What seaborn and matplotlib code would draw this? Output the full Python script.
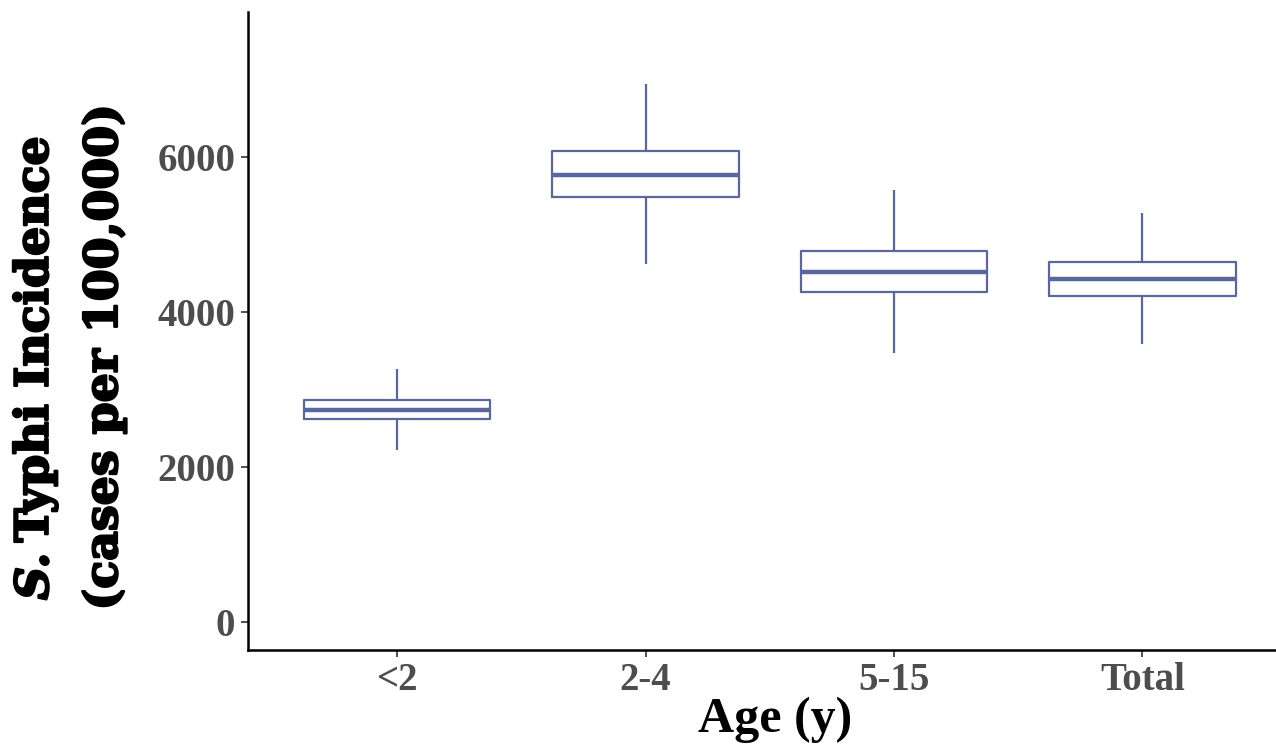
import numpy as np
import pandas as pd
import matplotlib
matplotlib.use("Agg")
import matplotlib.pyplot as plt
import matplotlib.patheffects as pe
import seaborn as sns

# Summary values: whisker low, Q1, median, Q3, whisker high
categories = ["<2", "2-4", "5-15", "Total"]
lo  = [2220, 4620, 3470, 3590]
q1  = [2620, 5485, 4260, 4205]
med = [2735, 5770, 4515, 4425]
q3  = [2865, 6075, 4785, 4645]
hi  = [3265, 6940, 5575, 5275]
yticks = [0, 2000, 4000, 6000]

rows = []
for c, a, b, m, d, e in zip(categories, lo, q1, med, q3, hi):
    for v in (a, b, m, d, e):
        rows.append({"Age": c, "Incidence": v})
df = pd.DataFrame(rows)

sns.set_theme(style="white")
fig = plt.figure(figsize=(12.76, 7.5), dpi=100)
ax = fig.add_axes([248/1276, 100/750, 1 - 248/1276 + 0.02, (650-12)/750])

col = "#5a679e"
sns.boxplot(data=df, x="Age", y="Incidence", order=categories, whis=(0, 100),
            width=0.75, fill=False, color=col, linewidth=1.6,
            medianprops=dict(color=col, linewidth=3.2),
            boxprops=dict(color=col), whiskerprops=dict(color=col),
            showcaps=False, ax=ax)

ax.set_ylim(-361, 7871)
ax.set_xlim(-0.6, 3.64)
ax.set_yticks(yticks)
ax.set_yticklabels([str(t) for t in yticks])

for s in ["top", "right"]:
    ax.spines[s].set_visible(False)
for s in ["left", "bottom"]:
    ax.spines[s].set_color("black")
    ax.spines[s].set_linewidth(1.8)
ax.tick_params(axis="both", which="both", length=5, width=1.2, color="#333333",
               labelcolor="#4d4d4d", labelsize=28, pad=4, left=True, bottom=True)
for lab in ax.get_xticklabels() + ax.get_yticklabels():
    lab.set_fontfamily("Liberation Serif")
    lab.set_fontweight("bold")

ax.set_xlabel("Age (y)", fontfamily="Liberation Serif", fontweight="bold",
              fontsize=36, color="black", labelpad=-2)
ax.set_ylabel("")

fx = dict(path_effects=[pe.withStroke(linewidth=1.6, foreground="black")])
fs = 33
W, H = 1276, 750
# line 1: "S." italic + " Typhi Incidence"
t1 = fig.text(35/W, (750-600)/H, "S.", rotation=90, ha="center", va="bottom",
              fontfamily="DejaVu Serif", fontweight="bold", fontstyle="italic",
              fontsize=fs, color="black", **fx)
fig.canvas.draw()
bb = t1.get_window_extent()
fig.text(35/W, (bb.y1 + 10)/H, "Typhi Incidence", rotation=90, ha="center", va="bottom",
         fontfamily="DejaVu Serif", fontweight="bold", fontsize=fs, color="black", **fx)
fig.text(104/W, (750-357)/H, "(cases per 100,000)", rotation=90, ha="center", va="center",
         fontfamily="DejaVu Serif", fontweight="bold", fontsize=fs, color="black", **fx)

fig.savefig("out.png", dpi=100)
